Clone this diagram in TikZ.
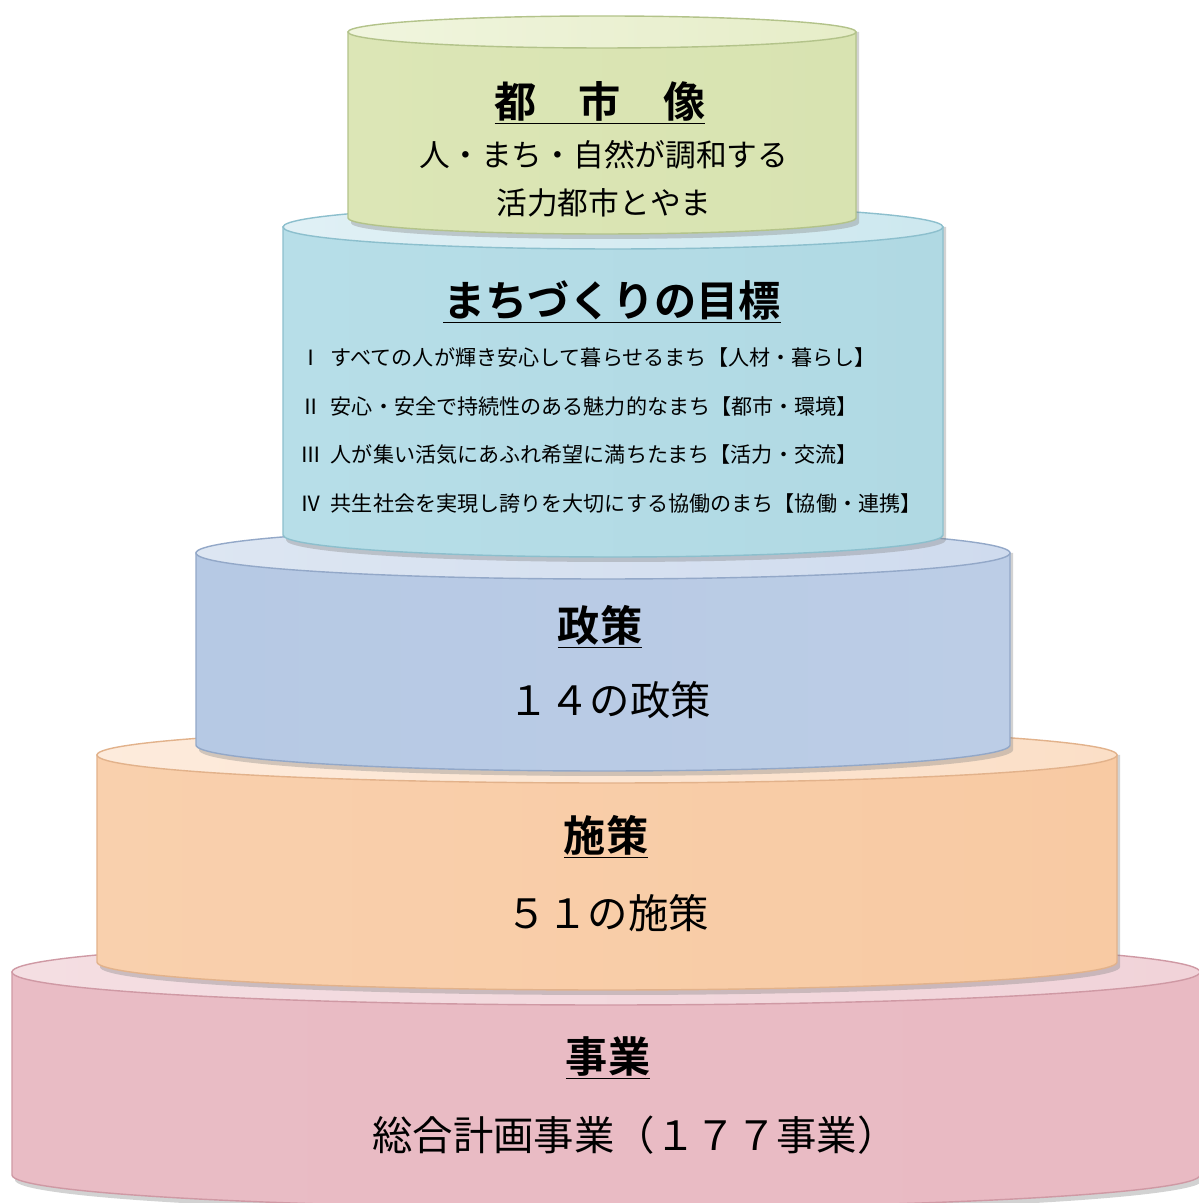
\documentclass[tikz,border=0pt]{standalone}
\usepackage{fontspec}
\newfontfamily\jp{Noto Sans CJK JP}[BoldFont={Noto Sans CJK JP Bold}]

% tier colours: L/M/R body, T top, E edge
\definecolor{cityL}{HTML}{DCE6B6}\definecolor{cityM}{HTML}{F0F5DE}\definecolor{cityR}{HTML}{D8E3B1}
\definecolor{cityT}{HTML}{E6EDC8}\definecolor{cityE}{HTML}{B3C38A}
\definecolor{goalL}{HTML}{B7DEE8}\definecolor{goalM}{HTML}{E0F0F5}\definecolor{goalR}{HTML}{B0D9E3}
\definecolor{goalT}{HTML}{CDE8EF}\definecolor{goalE}{HTML}{8CBFCD}
\definecolor{polL}{HTML}{B6C9E4}\definecolor{polM}{HTML}{DDE6F2}\definecolor{polR}{HTML}{BCCDE6}
\definecolor{polT}{HTML}{CFDBEE}\definecolor{polE}{HTML}{93A8C8}
\definecolor{meaL}{HTML}{F9D0AD}\definecolor{meaM}{HTML}{FDEBDC}\definecolor{meaR}{HTML}{F8CAA3}
\definecolor{meaT}{HTML}{FBDFC7}\definecolor{meaE}{HTML}{E2B28B}
\definecolor{bizL}{HTML}{E9BCC5}\definecolor{bizM}{HTML}{F4DEE2}\definecolor{bizR}{HTML}{E9BAC3}
\definecolor{bizT}{HTML}{F1D3D9}\definecolor{bizE}{HTML}{CF99A4}

% #1 cx, #2 rx, #3 top y, #4 bottom y, #5 ry, #6 colour stem
\newcommand\drawtier[6]{%
  \fill[black!50,opacity=.35] ({#1-#2+3},#3) -- ({#1-#2+3},{#4-5})
    arc[start angle=180,end angle=360,x radius=#2,y radius=#5] -- ({#1+#2+3},#3) -- cycle;
  \shade[left color=#6L,middle color=#6M,right color=#6R,draw=#6E,line width=.8pt]
    ({#1-#2},#3) -- ({#1-#2},#4)
    arc[start angle=180,end angle=360,x radius=#2,y radius=#5] -- ({#1+#2},#3) -- cycle;
  \shade[left color=#6M,right color=#6T,draw=#6E,line width=.8pt]
    (#1,#3) ellipse[x radius=#2,y radius=#5];
}

\tikzset{
  tiertitle/.style={font={\jp\bfseries\fontsize{24}{28}\selectfont}, inner sep=1pt},
  tiertext/.style={font={\jp\fontsize{23}{27}\selectfont}, inner sep=1pt},
  citytext/.style={font={\jp\fontsize{17.5}{21}\selectfont}, inner sep=1pt},
  goalline/.style={font={\jp\fontsize{12}{14}\selectfont}, anchor=west, inner sep=0pt},
}

\begin{document}
\begin{tikzpicture}[x=0.02cm, y=0.02cm]
  \useasboundingbox (0,0) rectangle (1198,1203);
  \fill[white] (0,0) rectangle (1198,1203);

  % tiers, bottom first
  \drawtier{606}{594}{231}{28}{33}{biz}
  \drawtier{607}{510}{448}{241}{28}{mea}
  \drawtier{603}{407}{650}{458}{26}{pol}
  \drawtier{613}{330}{976}{668}{22}{goal}
  \drawtier{602}{254}{1171}{985}{16}{city}

  % city image
  \node[tiertitle] (citytitle) at (600,1100) {\underline{都　市　像}};
  \node[citytext] (cityline1) at (604,1048) {人・まち・自然が調和する};
  \node[citytext] (cityline2) at (604,1000) {活力都市とやま};

  % goals
  \node[tiertitle] (goaltitle) at (612,901) {\underline{まちづくりの目標}};
  \node[goalline] (goal1) at (300,846) {\makebox[1.45em][l]{Ⅰ}すべての人が輝き安心して暮らせるまち【人材・暮らし】};
  \node[goalline] (goal2) at (300,797) {\makebox[1.45em][l]{Ⅱ}安心・安全で持続性のある魅力的なまち【都市・環境】};
  \node[goalline] (goal3) at (300,748) {\makebox[1.45em][l]{Ⅲ}人が集い活気にあふれ希望に満ちたまち【活力・交流】};
  \node[goalline] (goal4) at (300,700) {\makebox[1.45em][l]{Ⅳ}共生社会を実現し誇りを大切にする協働のまち【協働・連携】};

  % policies
  \node[tiertitle] (poltitle) at (600,576) {\underline{政策}};
  \node[tiertext] (poltext) at (610,503) {１４の政策};

  % measures
  \node[tiertitle] (meatitle) at (606,366) {\underline{施策}};
  \node[tiertext] (meatext) at (608,290) {５１の施策};

  % projects
  \node[tiertitle] (biztitle) at (608,145) {\underline{事業}};
  \node[tiertext] (biztext) at (635,68) {総合計画事業（１７７事業）};
\end{tikzpicture}
\end{document}
